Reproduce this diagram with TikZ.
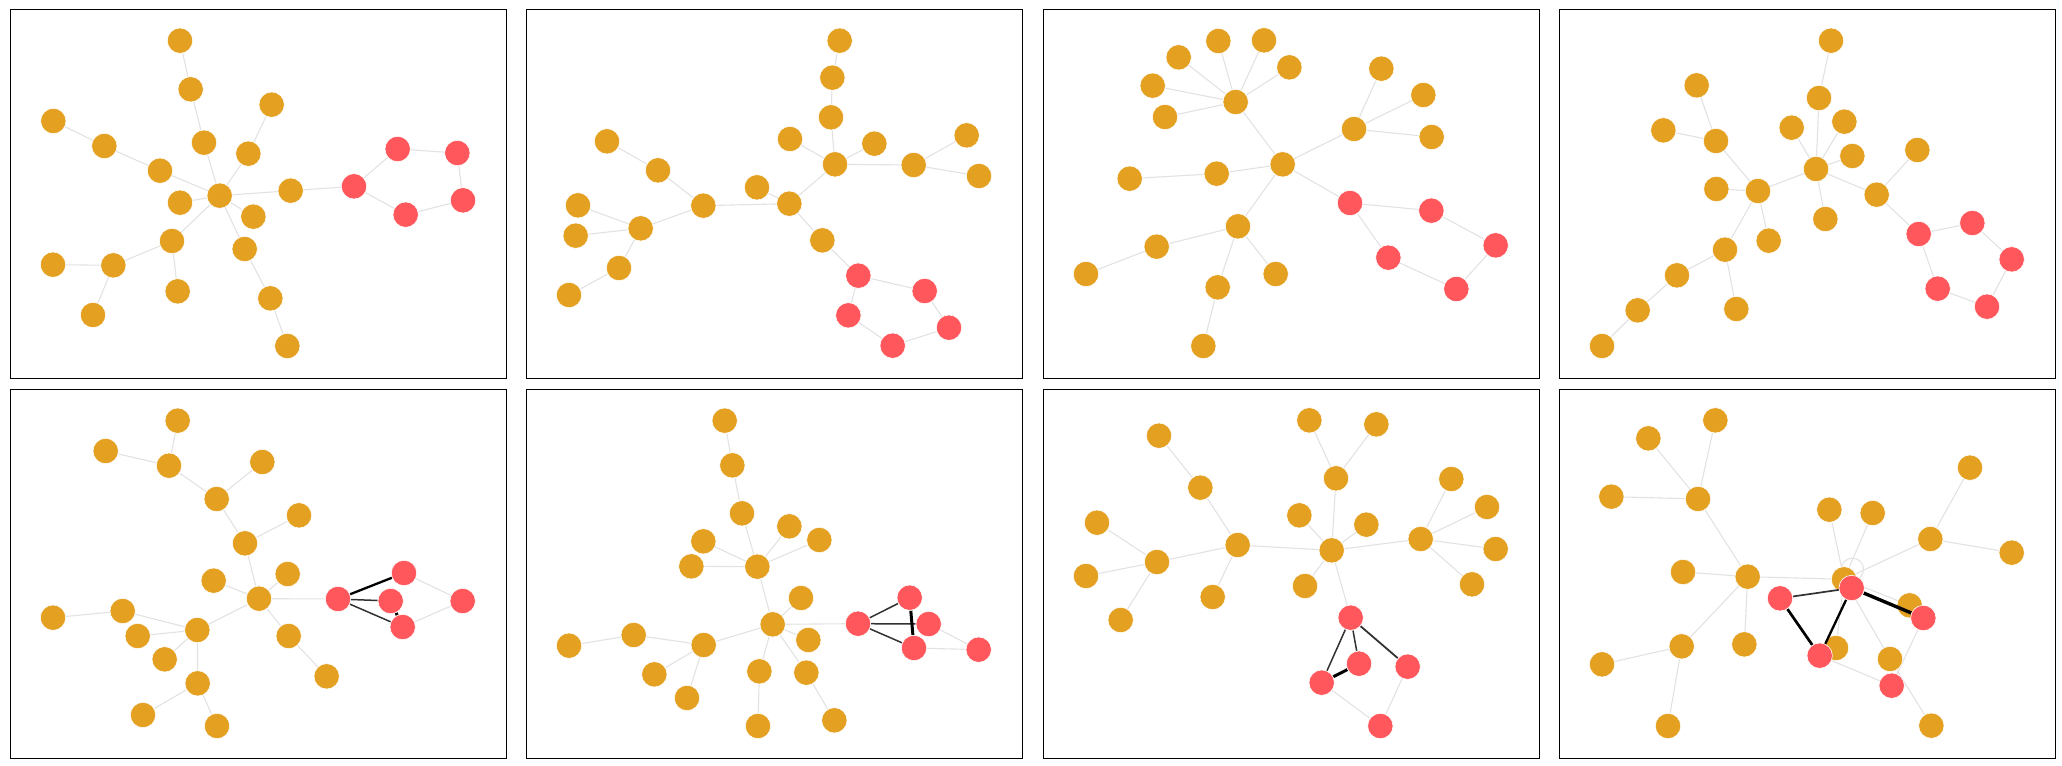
\documentclass[tikz,border=0pt]{standalone}
\usetikzlibrary{backgrounds}
\definecolor{oc}{RGB}{228,160,32}
\definecolor{rc}{RGB}{255,87,92}
\definecolor{eg}{RGB}{226,226,226}
\definecolor{dg}{RGB}{50,50,50}
\pgfdeclarelayer{gl}
\pgfdeclarelayer{ol}
\pgfdeclarelayer{dl}
\pgfsetlayers{gl,ol,dl,main}
\tikzset{
  onode/.style={circle, fill=oc, draw=white, line width=0.3pt, inner sep=0pt, minimum size=12.7pt},
  rnode/.style={circle, fill=rc, draw=white, line width=0.3pt, inner sep=0pt, minimum size=12.7pt},
  gedge/.style={draw=eg, line width=0.55pt},
  dedge/.style={draw=dg, line width=0.75pt},
  kedge/.style={draw=black, line width=1.15pt},
  kkedge/.style={draw=black, line width=1.5pt},
  panelframe/.style={draw=black, line width=0.8pt}
}
\begin{document}
\begin{tikzpicture}[x=0.1666667pt, y=-0.1666667pt]
\useasboundingbox (0,0) rectangle (6186,2298);
% frames
\draw[panelframe] (31,28) rectangle (1519,1135);
\draw[panelframe] (1579,28) rectangle (3067,1135);
\draw[panelframe] (3130,28) rectangle (4618,1135);
\draw[panelframe] (4678,28) rectangle (6166,1135);
\draw[panelframe] (31,1168) rectangle (1519,2275);
\draw[panelframe] (1579,1168) rectangle (3067,2275);
\draw[panelframe] (3130,1168) rectangle (4618,2275);
\draw[panelframe] (4678,1168) rectangle (6166,2275);

% ---------------- panel 1
\begin{scope}[shift={(0,0)}]
\begin{pgfonlayer}{ol}
\foreach \n/\x/\y in {A0/659/587, A1/540/122, A2/572/268, A3/612/428, A4/815/314, A5/745/461, A6/160/363, A7/313/438, A8/480/512, A9/540/608, A10/872/572, A11/760/650, A12/516/723, A13/734/747, A14/159/794, A15/340/796, A16/533/874, A17/279/945, A18/811/895, A19/862/1038}
  \node[onode] (\n) at (\x,\y) {};
\end{pgfonlayer}
\foreach \n/\x/\y in {R1/1062/559, R2/1193/447, R3/1372/459, R4/1389/601, R5/1217/644}
  \node[rnode] (\n) at (\x,\y) {};
\begin{pgfonlayer}{gl}
\foreach \a/\b in {A1/A2, A2/A3, A3/A0, A4/A5, A5/A0, A6/A7, A7/A8, A8/A0, A9/A0, A0/A10, A10/R1, A0/A11, A0/A12, A12/A15, A15/A14, A15/A17, A12/A16, A0/A13, A13/A18, A18/A19, R1/R2, R2/R3, R3/R4, R4/R5, R5/R1}
  \draw[gedge] (\a) -- (\b);
\end{pgfonlayer}
\end{scope}

% ---------------- panel 2
\begin{scope}[shift={(1545,0)}]
\begin{pgfonlayer}{ol}
\foreach \n/\x/\y in {B1/974/122, B2/952/233, B3/948/352, B4/825/417, B5/1078/431, B6/960/493, B7/1196/495, B8/1355/406, B9/1392/528, B10/726/562, B11/823/611, B12/565/617, B13/429/511, B14/276/424, B15/189/616, B16/377/685, B17/182/707, B18/312/804, B19/162/885, B20/922/721}
  \node[onode] (\n) at (\x,\y) {};
\end{pgfonlayer}
\foreach \n/\x/\y in {S1/1030/827, S2/1229/873, S3/1302/983, S4/1133/1037, S5/1000/946}
  \node[rnode] (\n) at (\x,\y) {};
\begin{pgfonlayer}{gl}
\foreach \a/\b in {B1/B2, B2/B3, B3/B6, B4/B6, B5/B6, B6/B7, B7/B8, B7/B9, B6/B11, B10/B11, B11/B12, B12/B13, B13/B14, B12/B16, B16/B15, B16/B17, B16/B18, B18/B19, B11/B20, B20/S1, S1/S2, S2/S3, S3/S4, S4/S5, S5/S1}
  \draw[gedge] (\a) -- (\b);
\end{pgfonlayer}
\end{scope}

% ---------------- panel 3
\begin{scope}[shift={(3090,0)}]
\begin{pgfonlayer}{ol}
\foreach \n/\x/\y in {C1/446/172, C2/565/123, C3/702/121, C4/778/202, C5/368/257, C6/617/306, C7/405/351, C8/1054/206, C9/1180/285, C10/972/387, C11/1205/411, C12/758/493, C13/299/536, C14/560/521, C15/624/679, C16/380/740, C17/168/822, C18/737/822, C19/563/862, C20/520/1038}
  \node[onode] (\n) at (\x,\y) {};
\end{pgfonlayer}
\foreach \n/\x/\y in {T1/960/609, T2/1204/632, T3/1397/736, T4/1279/867, T5/1075/773}
  \node[rnode] (\n) at (\x,\y) {};
\begin{pgfonlayer}{gl}
\foreach \a/\b in {C1/C6, C2/C6, C3/C6, C4/C6, C5/C6, C7/C6, C6/C12, C8/C10, C9/C10, C11/C10, C10/C12, C13/C14, C14/C12, C12/C15, C15/C16, C16/C17, C15/C18, C15/C19, C19/C20, C12/T1, T1/T2, T2/T3, T3/T4, T4/T5, T5/T1}
  \draw[gedge] (\a) -- (\b);
\end{pgfonlayer}
\end{scope}

% ---------------- panel 4
\begin{scope}[shift={(4635,0)}]
\begin{pgfonlayer}{ol}
\foreach \n/\x/\y in {D1/858/122, D2/455/256, D3/822/294, D4/355/391, D5/740/383, D6/898/365, D7/513/423, D8/922/468, D9/813/507, D10/1117/450, D11/514/567, D12/639/573, D13/995/584, D14/841/657, D15/671/722, D16/540/749, D17/396/826, D18/278/931, D19/574/927, D20/171/1038}
  \node[onode] (\n) at (\x,\y) {};
\end{pgfonlayer}
\foreach \n/\x/\y in {U1/1121/702, U2/1282/669, U3/1400/778, U4/1326/920, U5/1178/866}
  \node[rnode] (\n) at (\x,\y) {};
\begin{pgfonlayer}{gl}
\foreach \a/\b in {D1/D3, D3/D9, D5/D9, D6/D9, D8/D9, D2/D7, D4/D7, D7/D12, D11/D12, D12/D9, D9/D14, D9/D13, D13/D10, D13/U1, D12/D15, D12/D16, D16/D17, D17/D18, D18/D20, D16/D19, U1/U2, U2/U3, U3/U4, U4/U5, U5/U1}
  \draw[gedge] (\a) -- (\b);
\end{pgfonlayer}
\end{scope}

% ---------------- panel 5
\begin{scope}[shift={(0,1140)}]
\begin{pgfonlayer}{ol}
\foreach \n/\x/\y in {E1/533/122, E2/317/213, E3/507/257, E4/787/246, E5/650/357, E6/897/406, E7/735/490, E8/641/602, E9/863/582, E10/777/656, E11/159/713, E12/368/693, E13/413/768, E14/592/750, E15/494/838, E16/866/768, E17/980/889, E18/593/910, E19/429/1005, E20/651/1038}
  \node[onode] (\n) at (\x,\y) {};
\end{pgfonlayer}
\foreach \n/\x/\y in {V1/1014/657, V2/1212/579, V3/1172/663, V4/1208/741, V5/1388/663}
  \node[rnode] (\n) at (\x,\y) {};
\begin{pgfonlayer}{gl}
\foreach \a/\b in {E1/E3, E2/E3, E3/E5, E4/E5, E5/E7, E6/E7, E7/E10, E8/E10, E9/E10, E10/V1, E10/E14, E11/E12, E12/E14, E13/E14, E15/E14, E14/E18, E18/E19, E18/E20, E10/E16, E16/E17, V2/V5, V5/V4}
  \draw[gedge] (\a) -- (\b);
\end{pgfonlayer}
\begin{pgfonlayer}{dl}
\draw[kedge] (V1) -- (V2);
\draw[dedge] (V1) -- (V3);
\draw[dedge] (V1) -- (V4);
\draw[kkedge] (V3) -- (V4);
\end{pgfonlayer}
\end{scope}

% ---------------- panel 6
\begin{scope}[shift={(1545,1140)}]
\begin{pgfonlayer}{ol}
\foreach \n/\x/\y in {F1/629/122, F2/652/256, F3/681/400, F4/565/484, F5/823/439, F6/913/480, F7/529/559, F8/727/560, F9/858/654, F10/773/733, F11/880/780, F12/162/797, F13/356/765, F14/566/795, F15/418/883, F16/516/954, F17/733/874, F18/874/878, F19/729/1038, F20/958/1021}
  \node[onode] (\n) at (\x,\y) {};
\end{pgfonlayer}
\foreach \n/\x/\y in {W1/1029/731, W2/1184/653, W3/1241/732, W4/1197/804, W5/1391/809}
  \node[rnode] (\n) at (\x,\y) {};
\begin{pgfonlayer}{gl}
\foreach \a/\b in {F1/F2, F2/F3, F3/F8, F4/F8, F5/F8, F6/F8, F7/F8, F8/F10, F9/F10, F11/F10, F10/W1, F10/F14, F12/F13, F13/F14, F14/F15, F14/F16, F10/F17, F17/F19, F10/F18, F18/F20, W3/W5, W4/W5}
  \draw[gedge] (\a) -- (\b);
\end{pgfonlayer}
\begin{pgfonlayer}{dl}
\draw[dedge] (W1) -- (W2);
\draw[dedge] (W1) -- (W3);
\draw[dedge] (W1) -- (W4);
\draw[kkedge] (W2) -- (W4);
\end{pgfonlayer}
\end{scope}

% ---------------- panel 7
\begin{scope}[shift={(3090,1140)}]
\begin{pgfonlayer}{ol}
\foreach \n/\x/\y in {G1/387/167, G2/838/121, G3/1039/133, G4/511/323, G5/918/295, G6/1264/297, G7/201/428, G8/808/406, G9/1009/434, G10/1371/381, G11/623/495, G12/905/511, G13/1172/477, G14/381/546, G15/168/588, G16/1397/507, G17/548/651, G18/825/618, G19/1326/613, G20/272/720}
  \node[onode] (\n) at (\x,\y) {};
\end{pgfonlayer}
\foreach \n/\x/\y in {X1/962/713, X2/987/851, X3/1133/860, X4/875/908, X5/1051/1038}
  \node[rnode] (\n) at (\x,\y) {};
\begin{pgfonlayer}{gl}
\foreach \a/\b in {G1/G4, G4/G11, G11/G14, G7/G14, G15/G14, G20/G14, G11/G17, G11/G12, G2/G5, G3/G5, G5/G12, G8/G12, G9/G12, G18/G12, G12/G13, G6/G13, G10/G13, G16/G13, G19/G13, G12/X1, X4/X5, X5/X3}
  \draw[gedge] (\a) -- (\b);
\end{pgfonlayer}
\begin{pgfonlayer}{dl}
\draw[dedge] (X1) -- (X4);
\draw[dedge] (X1) -- (X2);
\draw[dedge, line width=0.9pt] (X1) -- (X3);
\draw[kkedge] (X2) -- (X4);
\end{pgfonlayer}
\end{scope}

% ---------------- panel 8
\begin{scope}[shift={(4635,1140)}]
\begin{pgfonlayer}{ol}
\foreach \n/\x/\y in {H1/511/121, H2/310/175, H3/1275/263, H4/199/350, H5/459/357, H6/853/389, H7/983/399, H8/1156/477, H9/1400/518, H10/414/576, H11/608/590, H12/897/598, H13/1094/676, H14/410/799, H15/598/793, H16/873/804, H17/171/853, H18/1035/837, H19/369/1038, H20/1159/1037}
  \node[onode] (\n) at (\x,\y) {};
\end{pgfonlayer}
\foreach \n/\x/\y in {Y1/705/655, Y2/920/624, Y3/1135/714, Y4/824/827, Y5/1040/917}
  \node[rnode] (\n) at (\x,\y) {};
\begin{pgfonlayer}{gl}
\foreach \a/\b in {H2/H5, H1/H5, H4/H5, H5/H11, H10/H11, H11/H12, H11/H14, H11/H15, H14/H17, H14/H19, H6/H12, H7/H12, H12/H8, H8/H3, H8/H9, H12/H13, H12/H16, H12/H18, H18/H20, Y4/Y5, Y5/Y3}
  \draw[gedge] (\a) -- (\b);
\draw[gedge] (H12) ++(25,-30) circle[radius=5.6pt];
\end{pgfonlayer}
\begin{pgfonlayer}{dl}
\draw[dedge, line width=0.85pt] (Y1) -- (Y2);
\draw[kedge, line width=1.35pt] (Y1) -- (Y4);
\draw[kedge] (Y2) -- (Y4);
\draw[kkedge, line width=1.7pt] (Y2) -- (Y3);
\end{pgfonlayer}
\end{scope}
\end{tikzpicture}
\end{document}
